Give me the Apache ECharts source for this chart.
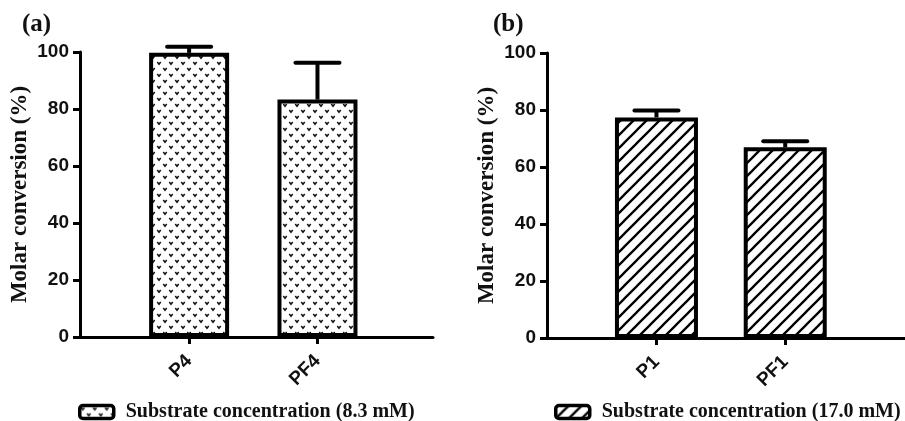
<!DOCTYPE html>
<html>
<head>
<meta charset="utf-8">
<script src="https://cdn.jsdelivr.net/npm/echarts@6/dist/echarts.min.js"></script>
<style>html,body{margin:0;padding:0;background:#fff}#c{width:905px;height:421px}</style>
</head>
<body>
<div id="c"></div>
<script>
// ---- data ----
const catsA = ['P4', 'PF4'];
const meanA = [99.7, 83.3];
const errA = [2.1, 12.9];
const catsB = ['P1', 'PF1'];
const meanB = [77.4, 66.9];
const errB = [2.4, 2.1];
const yTicks = [0, 20, 40, 60, 80, 100];
const nameA = 'Substrate concentration (8.3 mM)';
const nameB = 'Substrate concentration (17.0 mM)';
const yTitle = 'Molar conversion (%)';

// ---- patterns ----
function vPattern() {
  const c = document.createElement('canvas');
  c.width = 12; c.height = 12;
  const g = c.getContext('2d');
  g.fillStyle = '#fff'; g.fillRect(0, 0, 12, 12);
  g.strokeStyle = '#111'; g.lineWidth = 1.5;
  [[3, 3], [9, 9]].forEach(([x, y]) => {
    g.beginPath(); g.moveTo(x - 1.7, y - 1); g.lineTo(x, y + 1.2); g.lineTo(x + 1.7, y - 1); g.stroke();
  });
  return c;
}
function hatchPattern() {
  const p = 13;
  const c = document.createElement('canvas');
  c.width = p; c.height = p;
  const g = c.getContext('2d');
  g.fillStyle = '#fff'; g.fillRect(0, 0, p, p);
  g.strokeStyle = '#000'; g.lineWidth = 2.3;
  g.beginPath();
  g.moveTo(-2, p + 2); g.lineTo(p + 2, -2);
  g.moveTo(-2, 2); g.lineTo(2, -2);
  g.moveTo(p - 2, p + 2); g.lineTo(p + 2, p - 2);
  g.stroke();
  return c;
}
const patA = { image: vPattern(), repeat: 'repeat' };
const patB = { image: hatchPattern(), repeat: 'repeat' };

const sansBold = { fontFamily: 'Liberation Sans, Arial, sans-serif', fontWeight: 'bold', color: '#111' };
const serifBold = 'Liberation Serif, Times New Roman, serif';

function yAxis(idx) {
  return {
    type: 'value', gridIndex: idx, min: 0, max: 100, interval: 20,
    name: yTitle, nameLocation: 'middle', nameGap: 48, nameRotate: 90,
    nameTextStyle: { fontFamily: serifBold, fontWeight: 'bold', fontSize: 23, color: '#111' },
    axisLine: { show: true, lineStyle: { color: '#000', width: 3 } },
    axisTick: { show: true, length: 7, lineStyle: { color: '#000', width: 3 } },
    axisLabel: Object.assign({ fontSize: 19, margin: 11 }, sansBold),
    splitLine: { show: false }
  };
}
function xAxis(idx, cats, max) {
  return {
    type: 'value', gridIndex: idx, min: 0.15, max: max,
    axisLine: { show: true, onZero: false, lineStyle: { color: '#000', width: 3 } },
    axisTick: { show: true, customValues: [1, 2], length: 7, lineStyle: { color: '#000', width: 3 } },
    axisLabel: Object.assign({ customValues: [1, 2], rotate: 45, fontSize: 19, margin: 21,
      formatter: v => cats[Math.round(v) - 1] || '' }, sansBold),
    splitLine: { show: false }
  };
}
function errRender(params, api) {
  const x = api.value(0), m = api.value(1), e = api.value(2);
  const p0 = api.coord([x, m]);
  const p1 = api.coord([x, m + e]);
  const half = 22;
  return {
    type: 'group',
    children: [
      { type: 'line', shape: { x1: p0[0], y1: p0[1], x2: p1[0], y2: p1[1] }, style: { stroke: '#000', lineWidth: 4 } },
      { type: 'line', shape: { x1: p1[0] - half, y1: p1[1], x2: p1[0] + half, y2: p1[1] }, style: { stroke: '#000', lineWidth: 4, lineCap: 'round' } }
    ]
  };
}

const legendText = { fontFamily: serifBold, fontWeight: 'bold', fontSize: 20, color: '#111', padding: [0, 0, 0, 7] };
const chart = echarts.init(document.getElementById('c'), null, { renderer: 'canvas' });
chart.setOption({
  animation: false,
  backgroundColor: '#fff',
  grid: [
    { left: 80, top: 52, width: 353, height: 285 },
    { left: 547, top: 53, width: 358, height: 285 }
  ],
  xAxis: [xAxis(0, catsA, 2.9), xAxis(1, catsB, 2.93)],
  yAxis: [yAxis(0), yAxis(1)],
  legend: [
    { data: [nameA], left: 73, top: 397, itemWidth: 34, itemHeight: 13, icon: 'roundRect',
      itemStyle: { borderWidth: 3.5, borderColor: '#000' }, textStyle: legendText },
    { data: [nameB], left: 549, top: 397, itemWidth: 34, itemHeight: 13, icon: 'roundRect',
      itemStyle: { borderWidth: 3.5, borderColor: '#000' }, textStyle: legendText }
  ],
  graphic: [
    { type: 'text', left: 22, top: 12, style: { text: '(a)', font: 'bold 25px ' + serifBold, fill: '#111' } },
    { type: 'text', left: 493, top: 12, style: { text: '(b)', font: 'bold 25px ' + serifBold, fill: '#111' } }
  ],
  series: [
    { name: nameA, type: 'bar', xAxisIndex: 0, yAxisIndex: 0, barWidth: 80,
      itemStyle: { color: patA, borderColor: '#000', borderWidth: 4 },
      data: meanA.map((v, i) => [i + 1, v]) },
    { name: nameA + ' err', type: 'custom', xAxisIndex: 0, yAxisIndex: 0, renderItem: errRender, z: 3,
      data: meanA.map((v, i) => [i + 1, v, errA[i]]) },
    { name: nameB, type: 'bar', xAxisIndex: 1, yAxisIndex: 1, barWidth: 83,
      itemStyle: { color: patB, borderColor: '#000', borderWidth: 4 },
      data: meanB.map((v, i) => [i + 1, v]) },
    { name: nameB + ' err', type: 'custom', xAxisIndex: 1, yAxisIndex: 1, renderItem: errRender, z: 3,
      data: meanB.map((v, i) => [i + 1, v, errB[i]]) }
  ]
});
</script>
</body>
</html>
